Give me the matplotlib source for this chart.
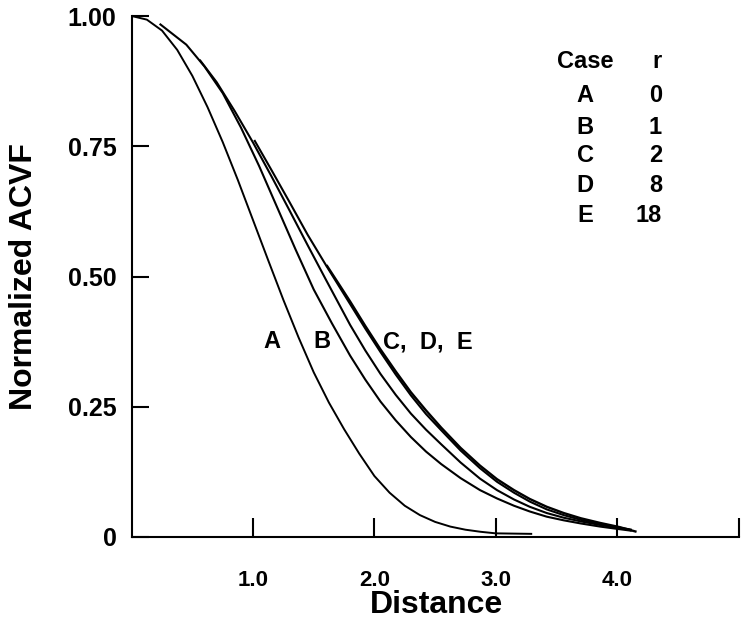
import matplotlib
matplotlib.use("Agg")
import matplotlib.pyplot as plt

plt.rcParams['font.family'] = ['Liberation Sans', 'DejaVu Sans']
plt.rcParams['font.weight'] = 'bold'

# Curve data
a_x = [0.0, 0.125, 0.25, 0.375, 0.5, 0.625, 0.75, 0.875, 1.0, 1.125, 1.25, 1.375, 1.5,
       1.625, 1.75, 1.875, 2.0, 2.125, 2.25, 2.375, 2.5, 2.625, 2.75, 2.875, 3.0, 3.3]
a_y = [1.0, 0.993, 0.972, 0.935, 0.885, 0.825, 0.758, 0.685, 0.608, 0.531, 0.455, 0.383, 0.316,
       0.258, 0.207, 0.160, 0.117, 0.085, 0.060, 0.042, 0.029, 0.020, 0.014, 0.010, 0.007, 0.006]

b_x = [0.23, 0.45, 0.60, 0.75, 0.90, 1.05, 1.20, 1.35, 1.50, 1.65, 1.80, 1.925, 2.05, 2.175, 2.30,
       2.425, 2.55, 2.71, 2.87, 3.01, 3.15, 3.28, 3.42, 3.56, 3.70, 3.86, 4.02, 4.12]
b_y = [0.985, 0.945, 0.903, 0.852, 0.786, 0.712, 0.632, 0.552, 0.475, 0.410, 0.348, 0.302, 0.260, 0.224, 0.192,
       0.164, 0.140, 0.113, 0.090, 0.074, 0.060, 0.049, 0.039, 0.032, 0.026, 0.020, 0.015, 0.012]

c_x = [0.56, 0.70, 0.85, 1.00, 1.15, 1.30, 1.45, 1.60, 1.80, 1.925, 2.05, 2.175, 2.30, 2.425, 2.55,
       2.71, 2.87, 3.01, 3.15, 3.28, 3.42, 3.56, 3.70, 3.86, 4.02, 4.12]
c_y = [0.916, 0.873, 0.817, 0.757, 0.693, 0.627, 0.560, 0.494, 0.407, 0.358, 0.313, 0.273, 0.237, 0.206, 0.178,
       0.143, 0.112, 0.090, 0.072, 0.058, 0.046, 0.037, 0.030, 0.023, 0.017, 0.013]

d_x = [1.01, 1.15, 1.30, 1.45, 1.60, 1.80, 1.925, 2.05, 2.175, 2.30, 2.425, 2.55, 2.71, 2.87, 3.01,
       3.15, 3.28, 3.42, 3.56, 3.70, 3.86, 4.02, 4.12]
d_y = [0.762, 0.705, 0.643, 0.580, 0.522, 0.447, 0.400, 0.355, 0.312, 0.272, 0.236, 0.205, 0.166, 0.132, 0.106,
       0.085, 0.068, 0.053, 0.042, 0.033, 0.025, 0.018, 0.014]

e_x = [1.605, 1.70, 1.80, 1.925, 2.05, 2.175, 2.30, 2.425, 2.55, 2.71, 2.87, 3.01, 3.15, 3.28, 3.42,
       3.56, 3.70, 3.86, 4.02, 4.16]
e_y = [0.522, 0.488, 0.452, 0.405, 0.360, 0.318, 0.278, 0.243, 0.210, 0.171, 0.137, 0.111, 0.090, 0.073, 0.058,
       0.046, 0.036, 0.027, 0.019, 0.010]

cases = ['A', 'B', 'C', 'D', 'E']
r_values = ['0', '1', '2', '8', '18']

x_ticks = [1, 2, 3, 4, 5]
x_tick_labels = ['1.0', '2.0', '3.0', '4.0', '']
y_ticks = [0, 0.25, 0.5, 0.75, 1.0]
y_tick_labels = ['0', '0.25', '0.50', '0.75', '1.00']

W, H = 750, 623
fig = plt.figure(figsize=(W / 100, H / 100), dpi=100)
ax = fig.add_axes([131.7 / W, 1 - 537 / H, (738.5 - 131.7) / W, (537 - 16) / H])

for xs, ys, lw in [(a_x, a_y, 1.4), (b_x, b_y, 1.5), (c_x, c_y, 1.5), (d_x, d_y, 1.5), (e_x, e_y, 1.7)]:
    ax.plot(xs, ys, color='black', lw=lw, solid_capstyle='butt', solid_joinstyle='round')

ax.set_xlim(0, 5.0)
ax.set_ylim(0, 1.0)
ax.spines['top'].set_visible(False)
ax.spines['right'].set_visible(False)
for s in ['left', 'bottom']:
    ax.spines[s].set_linewidth(1.5)

ax.set_xticks(x_ticks)
ax.set_xticklabels(x_tick_labels)
ax.set_yticks(y_ticks)
ax.set_yticklabels(y_tick_labels)
ax.tick_params(axis='x', direction='in', length=14, width=1.5, pad=24, labelsize=16)
ax.tick_params(axis='y', direction='in', length=12, width=1.5, pad=11, labelsize=18)
for lab in ax.get_xticklabels() + ax.get_yticklabels():
    lab.set_fontweight('bold')

# Axis titles
fig.text(437 / W, 1 - 605 / H, 'Distance', fontsize=23, fontweight='bold', ha='center', va='center')
fig.text(24 / W, 1 - 277 / H, 'Normalized ACVF', fontsize=23, fontweight='bold',
         ha='center', va='center', rotation=90)

# Curve labels
ax.text(1.155, 0.375, 'A', fontsize=17, fontweight='bold', ha='center', va='center')
ax.text(1.565, 0.375, 'B', fontsize=17, fontweight='bold', ha='center', va='center')
ax.text(2.44, 0.375, 'C,  D,  E', fontsize=17, fontweight='bold', ha='center', va='center')

# Case table
fig.text(585 / W, 1 - 61 / H, 'Case', fontsize=17, fontweight='bold', ha='center', va='center')
fig.text(662 / W, 1 - 61 / H, 'r', fontsize=17, fontweight='bold', ha='right', va='center')
row_y = [96, 127, 156, 186, 215]
for cy, cname, rv in zip(row_y, cases, r_values):
    fig.text(585 / W, 1 - cy / H, cname, fontsize=17, fontweight='bold', ha='center', va='center')
    fig.text(662 / W, 1 - cy / H, rv, fontsize=17, fontweight='bold', ha='right', va='center')

fig.savefig('out.png', dpi=100)
